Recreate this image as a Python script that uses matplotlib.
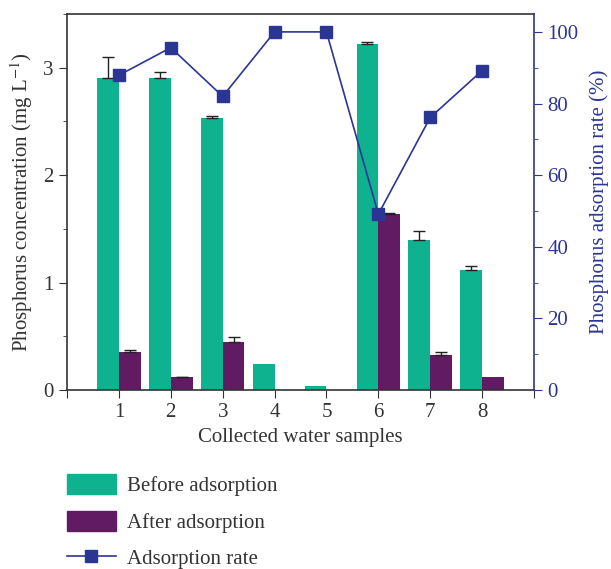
import matplotlib
matplotlib.use('Agg')
import matplotlib.pyplot as plt
from matplotlib.patches import Patch
from matplotlib.lines import Line2D
from matplotlib.ticker import MultipleLocator

plt.rcParams['font.family'] = ['Liberation Serif', 'DejaVu Serif']
plt.rcParams['mathtext.fontset'] = 'stix'

samples = [1, 2, 3, 4, 5, 6, 7, 8]
before = [2.90, 2.90, 2.53, 0.245, 0.04, 3.22, 1.40, 1.117]
before_err = [0.20, 0.06, 0.025, 0, 0, 0.02, 0.08, 0.04]
after = [0.355, 0.12, 0.45, 0, 0, 1.64, 0.325, 0.12]
after_err = [0.015, 0.005, 0.04, 0, 0, 0.005, 0.025, 0]
rate = [87.9, 95.6, 82.0, 100, 100, 49.1, 76.1, 89.2]

teal = '#0fb28f'
purple = '#611b62'
blue = '#2b3594'
dark = '#333333'
fs = 15

fig = plt.figure(figsize=(6.11, 5.69), dpi=100)
ax = fig.add_axes([0.1097, 0.3146, 0.874 - 0.1097, 0.9754 - 0.3146])
w = 0.42
xb = [s - w / 2 for s in samples]
xa = [s + w / 2 for s in samples]
ax.bar(xb, before, width=w, color=teal, zorder=2)
ax.bar(xa, after, width=w, color=purple, zorder=2)


def up_errors(xs, ys, errs):
    # one-sided error bars, skipped where there is no spread
    pts = [(x, y, e) for x, y, e in zip(xs, ys, errs) if e > 0]
    ax.errorbar([p[0] for p in pts], [p[1] for p in pts],
                yerr=[[0] * len(pts), [p[2] for p in pts]], fmt='none',
                ecolor='#222222', elinewidth=1, capsize=4, capthick=1, zorder=3)


up_errors(xb, before, before_err)
up_errors(xa, after, after_err)

ax.set_xlim(0, 9)
ax.set_ylim(0, 3.5)
ax.set_xticks(range(0, 10))
ax.set_xticklabels([''] + [str(s) for s in samples] + [''])
ax.yaxis.set_major_locator(MultipleLocator(1))
ax.yaxis.set_minor_locator(MultipleLocator(0.5))
ax.tick_params(axis='both', which='both', direction='out', colors=dark, labelsize=fs)
ax.tick_params(axis='both', which='major', length=6)
ax.tick_params(axis='y', which='minor', length=3)
ax.set_xlabel('Collected water samples', fontsize=fs, color=dark, labelpad=4)
ax.set_ylabel(r'Phosphorus concentration (mg L$^{-1}$)', fontsize=fs, color=dark, labelpad=6)
for side in ['left', 'top', 'bottom']:
    ax.spines[side].set_color(dark)
    ax.spines[side].set_linewidth(1.2)
ax.spines['right'].set_visible(False)

ax2 = ax.twinx()
ax2.plot(samples, rate, color=blue, lw=1.2, marker='s', markersize=8, zorder=4)
ax2.set_ylim(0, 105)
ax2.yaxis.set_major_locator(MultipleLocator(20))
ax2.yaxis.set_minor_locator(MultipleLocator(10))
ax2.tick_params(axis='y', which='both', direction='out', colors=blue, labelsize=fs)
ax2.tick_params(axis='y', which='major', length=6)
ax2.tick_params(axis='y', which='minor', length=3)
ax2.set_ylabel('Phosphorus adsorption rate (%)', fontsize=fs, color=blue, labelpad=8)
for side in ['left', 'top', 'bottom']:
    ax2.spines[side].set_visible(False)
ax2.spines['right'].set_color(blue)
ax2.spines['right'].set_linewidth(1.2)

handles = [Patch(color=teal), Patch(color=purple),
           Line2D([], [], color=blue, lw=1.2, marker='s', markersize=8)]
labels = ['Before adsorption', 'After adsorption', 'Adsorption rate']
fig.legend(handles, labels, loc='upper left', bbox_to_anchor=(0.079, 0.2),
           frameon=False, fontsize=fs, handlelength=2.35, handleheight=1.1,
           labelspacing=0.7, handletextpad=0.55, labelcolor=dark)

fig.savefig('out.png', dpi=100)
